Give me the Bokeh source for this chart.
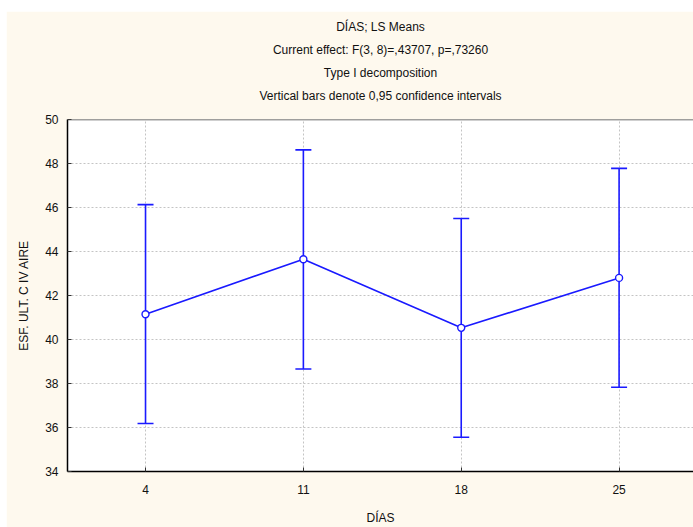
from bokeh.plotting import figure
from bokeh.models import (ColumnDataSource, Whisker, TeeHead, Title, FixedTicker,
                          Span, Range1d, Spacer)
from bokeh.layouts import column, row
from bokeh.embed import file_html
from bokeh.resources import INLINE

# ---- data ----
dias = [4, 11, 18, 25]
ls_means = [41.15, 43.65, 40.53, 42.80]
ci_lower = [36.18, 38.66, 35.56, 37.83]
ci_upper = [46.13, 48.62, 45.50, 47.78]
y_ticks = [34, 36, 38, 40, 42, 44, 46, 48, 50]

title_lines = [
    "DÍAS; LS Means",
    "Current effect: F(3, 8)=,43707, p=,73260",
    "Type I decomposition",
    "Vertical bars denote 0,95 confidence intervals",
]

FONT = "Liberation Sans"
BLUE = "#1a1aff"
CREAM = "#fef9ee"
TXT = "#111111"

src = ColumnDataSource(dict(x=dias, y=ls_means, lower=ci_lower, upper=ci_upper))

p = figure(width=687, height=516, output_backend="svg", toolbar_location=None,
           x_range=Range1d(0.54, 28.30), y_range=Range1d(34, 50),
           min_border_left=61, min_border_right=0, min_border_top=108,
           min_border_bottom=54)

p.background_fill_color = "white"
p.border_fill_color = CREAM
p.outline_line_color = None
p.title = None

# blank spacer panel between the plot area and the title lines
p.add_layout(Title(text=" ", text_font_size="1px", standoff=10), "above")
# title lines, each centred; the one added first sits closest to the plot
for line in reversed(title_lines):
    p.add_layout(Title(text=line, align="center", text_font=FONT,
                       text_font_size="12px", text_font_style="normal",
                       text_color=TXT, standoff=7), "above")

# axes
p.xaxis.ticker = FixedTicker(ticks=dias)
p.yaxis.ticker = FixedTicker(ticks=y_ticks)
for ax in (p.xaxis[0], p.yaxis[0]):
    ax.axis_line_color = "black"
    ax.axis_line_width = 1.5
    ax.major_tick_in = 4
    ax.major_tick_out = 0
    ax.major_tick_line_color = "#333333"
    ax.minor_tick_line_color = None
    ax.major_label_text_font = FONT
    ax.major_label_text_font_size = "12px"
    ax.major_label_text_color = TXT
    ax.axis_label_text_font = FONT
    ax.axis_label_text_font_size = "12px"
    ax.axis_label_text_font_style = "normal"
    ax.axis_label_text_color = TXT

p.xaxis.axis_label = "DÍAS"
p.yaxis.axis_label = "ESF. ULT. C IV AIRE"
p.xaxis.major_label_standoff = 13
p.xaxis.axis_label_standoff = 14
p.yaxis.major_label_standoff = 9
p.yaxis.axis_label_standoff = 11

# grid
for g in (p.xgrid[0], p.ygrid[0]):
    g.grid_line_color = "#c4c4c4"
    g.grid_line_dash = "2 2"
    g.grid_line_width = 1

# top frame border
p.add_layout(Span(location=50, dimension="width", line_color="#404040", line_width=1.5))

# error bars
wh = Whisker(source=src, base="x", lower="lower", upper="upper",
             line_color=BLUE, line_width=1.6,
             upper_head=TeeHead(size=16, line_color=BLUE, line_width=1.6),
             lower_head=TeeHead(size=16, line_color=BLUE, line_width=1.6))
p.add_layout(wh)

# means line and points
p.line("x", "y", source=src, line_color=BLUE, line_width=1.6)
p.scatter("x", "y", source=src, marker="circle", size=7, fill_color="white",
          line_color=BLUE, line_width=1.4)

layout = column(Spacer(height=11, width=693),
                row(Spacer(width=6, height=516), p))

open("out.html", "w").write(file_html(layout, INLINE))
